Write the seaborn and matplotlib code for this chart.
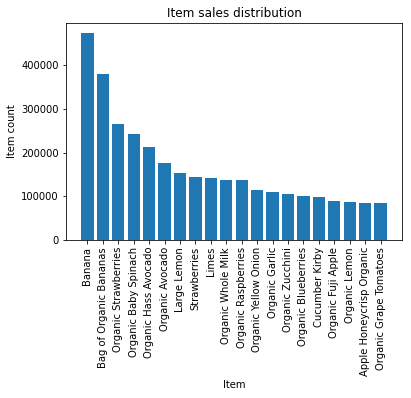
import matplotlib
matplotlib.use("Agg")
import matplotlib.pyplot as plt
import seaborn as sns
import pandas as pd

items = ["Banana", "Bag of Organic Bananas", "Organic Strawberries",
         "Organic Baby Spinach", "Organic Hass Avocado", "Organic Avocado",
         "Large Lemon", "Strawberries", "Limes", "Organic Whole Milk",
         "Organic Raspberries", "Organic Yellow Onion", "Organic Garlic",
         "Organic Zucchini", "Organic Blueberries", "Cucumber Kirby",
         "Organic Fuji Apple", "Organic Lemon", "Apple Honeycrisp Organic",
         "Organic Grape Tomatoes"]
counts = [472565, 379450, 264683, 241921, 213584, 176815, 152657, 142951,
          140627, 137905, 137057, 113426, 109778, 104823, 100060, 97315,
          89632, 87746, 85020, 84255]

df = pd.DataFrame({"Item": items, "Item count": counts})

fig = plt.figure(figsize=(411 / 72, 398 / 72), dpi=72)
ax = fig.add_axes([66 / 411, 1 - 240 / 398, 336 / 411, 217 / 398])
sns.barplot(data=df, x="Item", y="Item count", color="#1f77b4",
            saturation=1, width=0.8, ax=ax)
ax.set_xlim(-1.39, len(items) - 1 + 1.39)
ax.set_ylim(0, max(counts) * 1.05)
ax.tick_params(axis="x", rotation=90)
ax.set_title("Item sales distribution")
ax.set_xlabel("Item")
ax.set_ylabel("Item count")

fig.savefig("out.png", dpi=72)
